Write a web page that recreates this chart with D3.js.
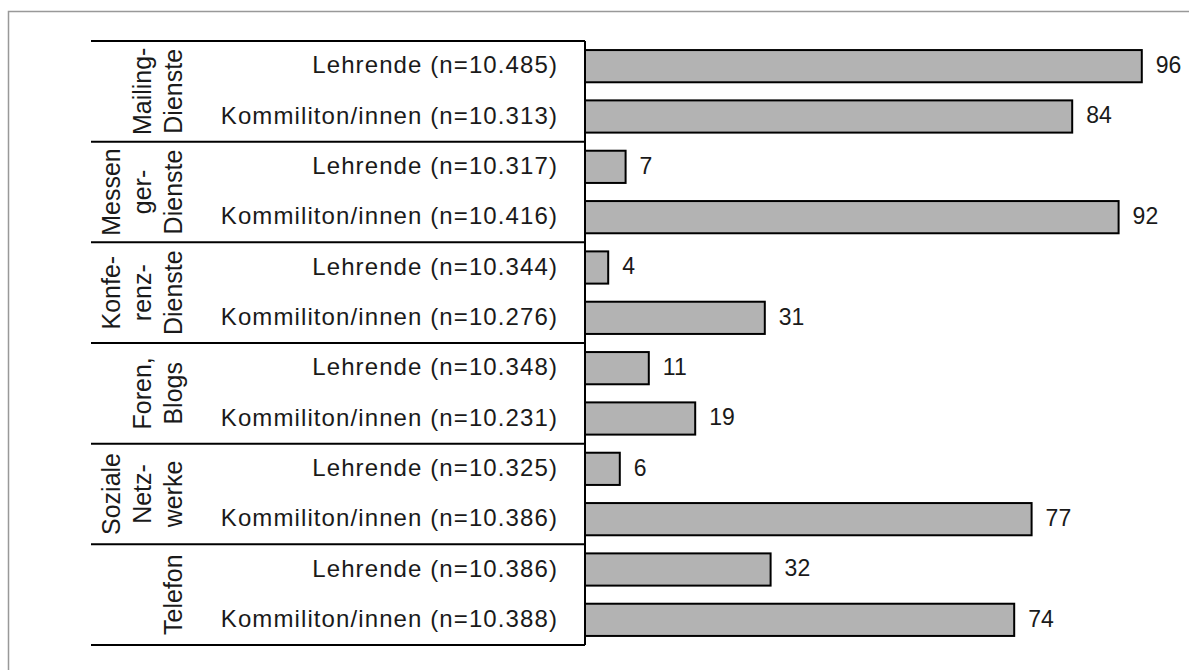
<!DOCTYPE html>
<html><head><meta charset="utf-8">
<script src="https://cdn.jsdelivr.net/npm/d3@7"></script>
<style>
html,body{margin:0;padding:0;background:#fff;}
svg{display:block;font-family:"Liberation Sans",Arial,sans-serif;}
</style></head>
<body>
<svg id="chart" width="1189" height="670"></svg>
<script>
const groups = [
  ["Mailing-","Dienste"],
  ["Messen","ger-","Dienste"],
  ["Konfe-","renz-","Dienste"],
  ["Foren,","Blogs"],
  ["Soziale","Netz-","werke"],
  ["Telefon"]
];
const rowLabels = [
  "Lehrende (n=10.485)","Kommiliton/innen (n=10.313)",
  "Lehrende (n=10.317)","Kommiliton/innen (n=10.416)",
  "Lehrende (n=10.344)","Kommiliton/innen (n=10.276)",
  "Lehrende (n=10.348)","Kommiliton/innen (n=10.231)",
  "Lehrende (n=10.325)","Kommiliton/innen (n=10.386)",
  "Lehrende (n=10.386)","Kommiliton/innen (n=10.388)"
];
const values = [96,84,7,92,4,31,11,19,6,77,32,74];

const svg = d3.select("#chart");
// outer frame
svg.append("rect").attr("x",8.5).attr("y",11.5).attr("width",1300).attr("height",800)
  .attr("fill","none").attr("stroke","#999").attr("stroke-width",1.5);

const tableTop=41, tableBottom=645, tableLeft=91, axisX=585;
const rows = d3.range(values.length);
const y = d3.scaleBand().domain(rows).range([tableTop,tableBottom]).paddingInner(0.36).paddingOuter(0.18);
const x = d3.scaleLinear().domain([0,100]).range([axisX,1165]);
const gy = d3.scaleBand().domain(d3.range(groups.length)).range([tableTop,tableBottom]);

// table lines
const lines = svg.append("g").attr("stroke","#000").attr("stroke-width",2);
d3.range(groups.length+1).forEach(i=>{
  const yy = i<groups.length ? gy(i) : tableBottom;
  lines.append("line").attr("x1",tableLeft).attr("x2",axisX).attr("y1",yy).attr("y2",yy);
});
lines.append("line").attr("x1",axisX).attr("x2",axisX).attr("y1",tableTop).attr("y2",tableBottom);

// bars
svg.append("g").selectAll("rect").data(values).join("rect")
  .attr("x",x(0)).attr("y",(d,i)=>y(i)).attr("width",d=>x(d)-x(0)).attr("height",y.bandwidth())
  .attr("fill","#b3b3b3").attr("stroke","#000").attr("stroke-width",2);

// value labels
svg.append("g").selectAll("text").data(values).join("text")
  .attr("x",d=>x(d)+14).attr("y",(d,i)=>y(i)+y.bandwidth()/2).attr("dy","0.3em")
  .attr("font-size",23).attr("fill","#1a1a1a").text(d=>d);

// row labels
svg.append("g").selectAll("text").data(rowLabels).join("text")
  .attr("x",558).attr("y",(d,i)=>y(i)+y.bandwidth()/2).attr("dy","0.3em")
  .attr("text-anchor","end").attr("font-size",24).attr("letter-spacing",1.1)
  .attr("fill","#1a1a1a").text(d=>d);

// group labels (rotated)
const lineGap = 31, lastBaseline = 182;
groups.forEach((g,i)=>{
  const cy = gy(i)+gy.bandwidth()/2;
  g.forEach((t,j)=>{
    const bx = lastBaseline - (g.length-1-j)*lineGap;
    svg.append("text").attr("transform",`translate(${bx},${cy}) rotate(-90)`)
      .attr("text-anchor","middle").attr("font-size",25).attr("fill","#1a1a1a").text(t);
  });
});
</script>
</body></html>
